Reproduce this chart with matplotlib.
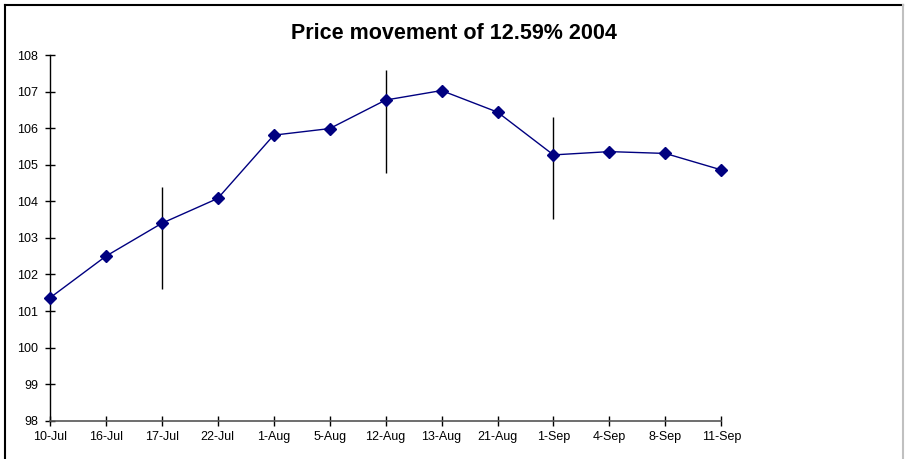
import matplotlib.pyplot as plt
from matplotlib.lines import Line2D

dates = ['10-Jul', '16-Jul', '17-Jul', '22-Jul', '1-Aug', '5-Aug', '12-Aug',
         '13-Aug', '21-Aug', '1-Sep', '4-Sep', '8-Sep', '11-Sep']
prices = [101.36, 102.50, 103.40, 104.08, 105.81, 105.99, 106.77,
          107.03, 106.44, 105.27, 105.36, 105.31, 104.86]

# vertical range lines on three of the dates
range_idx = [2, 6, 9]
range_low = [101.59, 104.77, 103.51]
range_high = [104.40, 107.59, 106.30]

plt.rcParams['font.family'] = ['Liberation Sans', 'DejaVu Sans']

fig = plt.figure(figsize=(9.05, 4.59), dpi=100)
ax = fig.add_axes([0.0552, 0.0834, 0.797 - 0.0552, 0.880 - 0.0834])

x = list(range(len(dates)))
ax.vlines(range_idx, range_low, range_high, colors='black', linewidth=1.0,
          zorder=2, clip_on=False)
ax.plot(x, prices, color='#000080', linewidth=1.0, marker='D',
        markersize=6.5, markerfacecolor='#000080', markeredgecolor='#000080',
        zorder=3, clip_on=False)

ax.set_xlim(0, len(dates) - 1)
ax.set_ylim(98, 108)
ax.set_yticks(range(98, 109))
ax.set_xticks(x)
ax.set_xticklabels(dates)

for side in ('top', 'right'):
    ax.spines[side].set_visible(False)
ax.spines['left'].set_color('black')
ax.spines['bottom'].set_color('#555555')
ax.spines['left'].set_linewidth(1.0)
ax.spines['bottom'].set_linewidth(1.2)

ax.tick_params(axis='both', direction='inout', length=7, width=1.0,
               colors='black', labelsize=9)
ax.tick_params(axis='y', pad=5)
ax.tick_params(axis='x', pad=4)

fig.text(0.502, 0.928, 'Price movement of 12.59% 2004', ha='center',
         va='center', fontsize=15.5, fontweight='bold')

# outer chart border: dark on top/left, grey on right
W, H = 905, 459
fig.add_artist(Line2D([5 / W, 5 / W], [0, 1 - 5 / H], color='black',
                      linewidth=1.5, transform=fig.transFigure))
fig.add_artist(Line2D([5 / W, 903 / W], [1 - 5 / H, 1 - 5 / H], color='black',
                      linewidth=1.5, transform=fig.transFigure))
fig.add_artist(Line2D([903 / W, 903 / W], [0, 1 - 5 / H], color='#c0c0c0',
                      linewidth=1.5, transform=fig.transFigure))

fig.savefig('out.png', dpi=100)
